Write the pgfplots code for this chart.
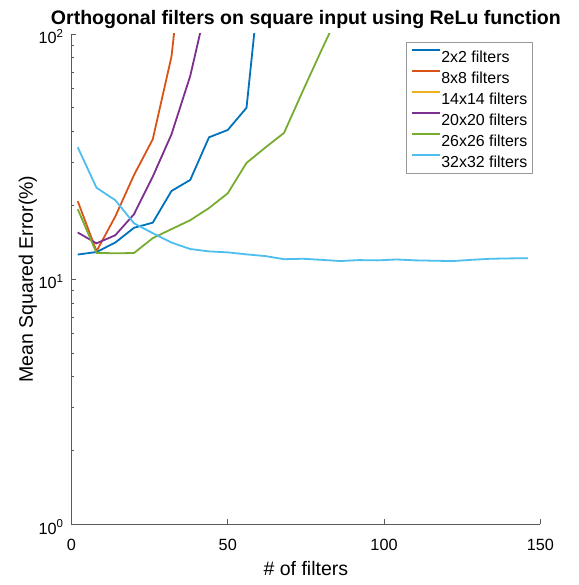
\documentclass[border=0pt]{standalone}
\usepackage{pgfplots}
\pgfplotsset{compat=1.18}
\usepackage{fontspec}
\setmainfont{Liberation Sans}

% MATLAB default line colours
\definecolor{mblue}{rgb}{0,0.447,0.741}
\definecolor{morange}{rgb}{0.850,0.325,0.098}
\definecolor{myellow}{rgb}{0.929,0.694,0.125}
\definecolor{mpurple}{rgb}{0.494,0.184,0.556}
\definecolor{mgreen}{rgb}{0.466,0.674,0.188}
\definecolor{mcyan}{rgb}{0.301,0.745,0.933}
\definecolor{axcol}{gray}{0.35}

\newcommand{\sz}{\fontsize{16.3}{16.3}\selectfont}
\newcommand{\lz}{\fontsize{19.6}{19.6}\selectfont}
\newcommand{\pw}[1]{10\raisebox{0.42em}{\fontsize{11.5}{11.5}\selectfont #1}}

\begin{document}
\begin{tikzpicture}
\begin{axis}[
  scale only axis,
  width=468.8bp, height=490.3bp,
  xmin=0, xmax=150, ymin=1, ymax=100,
  ymode=log,
  axis x line*=bottom, axis y line*=left,
  axis line style={axcol, line width=0.8bp, -},
  every tick/.style={axcol, line width=0.8bp},
  tick align=inside,
  major tick length=5bp, minor tick length=3bp,
  xtick={0,50,100,150},
  ytick={1,10,100},
  yticklabels={\pw{0},\pw{1},\pw{2}},
  /pgf/number format/assume math mode=true,
  xticklabel style={font=\sz, anchor=base, inner sep=0pt, yshift=-25.7bp},
  yticklabel style={font=\sz, anchor=east, inner sep=0pt, xshift=-8.2bp, yshift=-2.5bp},
  title={Orthogonal filters on square input using ReLu function},
  title style={font=\lz\bfseries,
    at={(axis description cs:0.5,1)}, anchor=base, yshift=4bp, inner sep=0pt},
  xlabel={\# of filters},
  xlabel style={font=\lz, at={(axis description cs:0.5,0)}, anchor=base,
    yshift=-51.4bp, inner sep=0pt},
  ylabel={Mean Squared Error(\%)},
  ylabel style={font=\lz, at={(axis description cs:0,0.5)}, anchor=base,
    yshift=38.5bp, inner sep=0pt},
  every axis plot/.append style={line width=1.8bp},
  legend cell align=left,
  legend image code/.code={\draw[#1, line width=2bp] (0bp,5.5bp) -- (27.6bp,5.5bp);},
  legend style={
    at={(1,1)}, anchor=north east, xshift=-7.6bp, yshift=-8.3bp,
    draw=black!40, line width=0.6bp, fill=white,
    inner xsep=4.4bp, inner ysep=2.5bp, row sep=0pt,
    font=\fontsize{16}{16}\selectfont,
    nodes={inner xsep=0.7bp, inner ysep=0pt, text height=17.2bp, text depth=3.8bp},
  },
]
% 2x2 filters
\addplot[mblue] coordinates {
 (2,12.6) (8,12.9) (14,14.1) (20,16.2) (26,17.0) (32,22.9) (38,25.4)
 (44,37.9) (50,40.6) (56,50.0) (62,273)
};
\addlegendentry{2x2 filters}
% 8x8 filters
\addplot[morange] coordinates {
 (2,20.8) (8,13.0) (14,18.0) (20,26.6) (26,37.2) (32,81) (38,400)
};
\addlegendentry{8x8 filters}
% 14x14 filters: every value lies above the plotted range
\addlegendimage{myellow}
\addlegendentry{14x14 filters}
% 20x20 filters
\addplot[mpurple] coordinates {
 (2,15.5) (8,14.0) (14,15.1) (20,18.4) (26,26.2) (32,39.0) (38,67.5) (44,145)
};
\addlegendentry{20x20 filters}
% 26x26 filters
\addplot[mgreen] coordinates {
 (2,19.3) (8,12.8) (14,12.75) (20,12.78) (26,14.7) (32,16.0) (38,17.4)
 (44,19.5) (50,22.4) (56,29.8) (62,34.4) (68,39.5) (74,58.5) (80,86) (86,125)
};
\addlegendentry{26x26 filters}
% 32x32 filters
\addplot[mcyan] coordinates {
 (2,34.5) (8,23.6) (14,21.0) (20,16.9) (26,15.4) (32,14.1) (38,13.27)
 (44,12.98) (50,12.86) (56,12.62) (62,12.42) (68,12.06) (74,12.11)
 (80,11.99) (86,11.85) (92,11.96) (98,11.93) (104,12.03) (110,11.93)
 (116,11.89) (122,11.85) (128,11.99) (134,12.11) (140,12.15) (146,12.18)
};
\addlegendentry{32x32 filters}
\end{axis}
\pgfresetboundingbox
\path ([xshift=-71.5bp,yshift=-60.7bp]current axis.south west)
  rectangle ([xshift=38.7bp,yshift=34bp]current axis.north east);
\end{tikzpicture}
\end{document}
